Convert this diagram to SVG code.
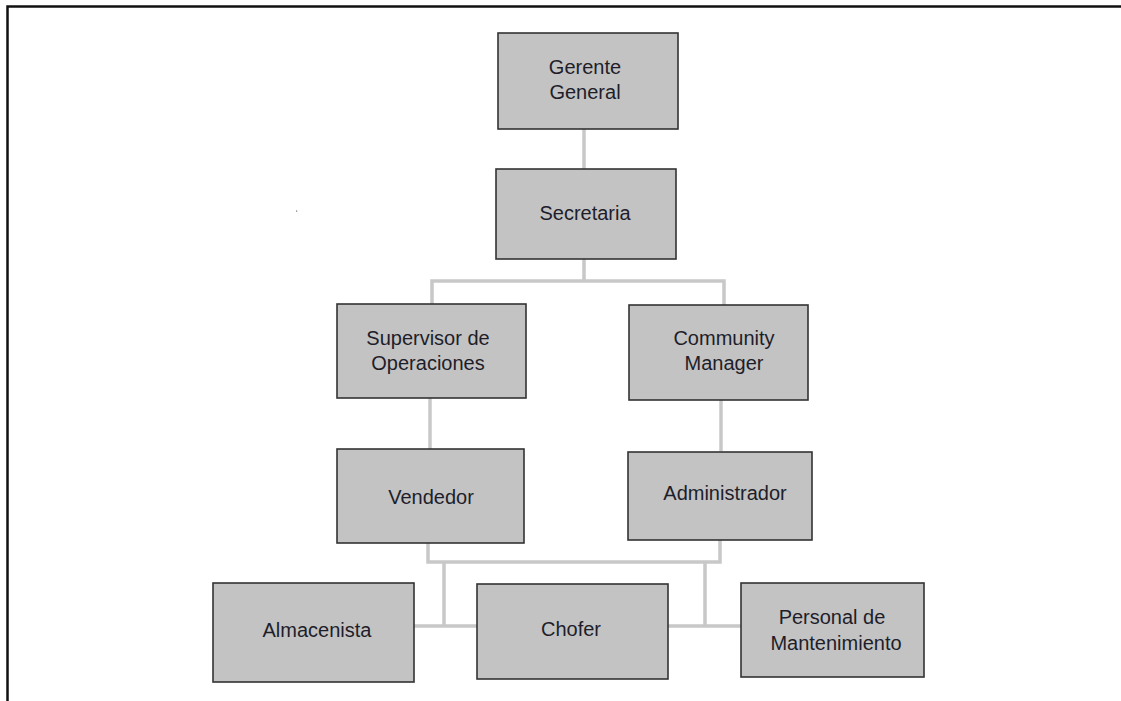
<svg xmlns="http://www.w3.org/2000/svg" width="1121" height="701" viewBox="0 0 1121 701">
<style>
.box{fill:#c3c3c3;stroke:#333;stroke-width:1.6}
.lbl{font-family:"Liberation Sans",Arial,sans-serif;font-size:20px;fill:#1e1e2a;text-anchor:middle}
.con{fill:none;stroke:#c8c8c8;stroke-width:3.5}
</style>
<rect width="1121" height="701" fill="#fff"/>
<path d="M7.5,701 V6.5 H1121" fill="none" stroke="#111" stroke-width="2.5"/>
<rect x="296" y="210.5" width="1.2" height="1.2" fill="#777"/>
<g id="connectors">
<path class="con" d="M584,129 V169"/>
<path class="con" d="M584,259 V281 M432,305 V281 H724 V305"/>
<path class="con" d="M430,398 V450"/>
<path class="con" d="M721,400 V451"/>
<path class="con" d="M428,543 V562 H720 V540"/>
<path class="con" d="M444,562 V626 M705,562 V626"/>
<path class="con" d="M414,626 H478 M668,626 H741"/>
</g>
<g id="gerente"><rect class="box" x="498" y="33" width="180" height="96"/><text class="lbl" x="585" y="74">Gerente</text><text class="lbl" x="585" y="99">General</text></g>
<g id="secretaria"><rect class="box" x="496" y="169" width="180" height="90"/><text class="lbl" x="585" y="220">Secretaria</text></g>
<g id="supervisor"><rect class="box" x="337" y="304" width="189" height="94"/><text class="lbl" x="428" y="345">Supervisor de</text><text class="lbl" x="428" y="370">Operaciones</text></g>
<g id="community"><rect class="box" x="629" y="305" width="179" height="95"/><text class="lbl" x="724" y="345">Community</text><text class="lbl" x="724" y="370">Manager</text></g>
<g id="vendedor"><rect class="box" x="337" y="449" width="187" height="94"/><text class="lbl" x="431" y="504">Vendedor</text></g>
<g id="administrador"><rect class="box" x="628" y="452" width="184" height="88"/><text class="lbl" x="725" y="500">Administrador</text></g>
<g id="almacenista"><rect class="box" x="213" y="583" width="201" height="99"/><text class="lbl" x="317" y="637">Almacenista</text></g>
<g id="chofer"><rect class="box" x="477" y="584" width="191" height="95"/><text class="lbl" x="571" y="636">Chofer</text></g>
<g id="personal"><rect class="box" x="741" y="583" width="183" height="94"/><text class="lbl" x="832" y="624">Personal de</text><text class="lbl" x="836" y="650">Mantenimiento</text></g>
</svg>
